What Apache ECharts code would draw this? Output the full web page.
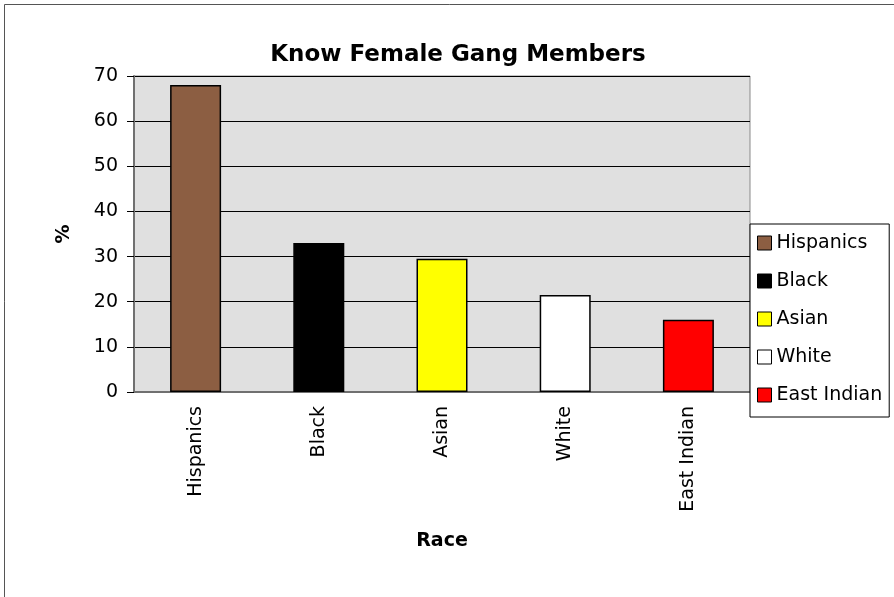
<!DOCTYPE html>
<html>
<head>
<meta charset="utf-8">
<script src="https://cdn.jsdelivr.net/npm/echarts@6/dist/echarts.min.js"></script>
<style>
  html, body { margin: 0; padding: 0; background: #fff; }
  #chart { width: 894px; height: 597px; }
</style>
</head>
<body>
<div id="chart"></div>
<script>
// data
var categories = ["Hispanics", "Black", "Asian", "White", "East Indian"];
var values = [68, 33, 29.5, 21.5, 16];
var colors = ["#8C5E42", "#000000", "#FFFF00", "#FFFFFF", "#FF0000"];
var yTicks = [0, 10, 20, 30, 40, 50, 60, 70];

var font = "DejaVu Sans";
var myChart = echarts.init(document.getElementById("chart"));

// one series per race so the legend gets one entry each
var seriesArr = categories.map(function (name, i) {
  return {
    name: name,
    type: "bar",
    barWidth: 51,
    barGap: "-100%",
    data: categories.map(function (c, j) {
      return j === i ? values[i] : "-";
    }),
    itemStyle: {
      color: colors[i],
      borderColor: "#000",
      borderWidth: 1.5,
    },
  };
});

myChart.setOption({
  animation: false,
  backgroundColor: "#fff",
  graphic: [
    {
      type: "rect",
      shape: { x: 4.5, y: 4.5, width: 1000, height: 1000 },
      style: { fill: "none", stroke: "#555", lineWidth: 1 },
      silent: true,
    },
  ],
  title: {
    text: "Know Female Gang Members",
    left: 453,
    textAlign: "center",
    top: 39,
    textStyle: {
      fontFamily: font,
      fontWeight: "bold",
      fontSize: 23,
      color: "#000",
    },
  },
  legend: {
    orient: "vertical",
    left: 750,
    top: 224,
    padding: [9, 7, 12, 7],
    itemGap: 18,
    itemWidth: 14,
    itemHeight: 14,
    icon: "rect",
    backgroundColor: "#fff",
    borderColor: "#000",
    borderWidth: 1,
    borderRadius: 0,
    data: categories,
    itemStyle: { borderColor: "#000", borderWidth: 1 },
    textStyle: {
      fontFamily: font,
      fontSize: 19,
      color: "#000",
      lineHeight: 20,
    },
  },
  grid: {
    left: 134,
    right: 144,
    top: 76,
    bottom: 205,
    show: true,
    backgroundColor: "#E0E0E0",
    borderColor: "#8a8a8a",
    borderWidth: 1,
  },
  xAxis: {
    type: "category",
    data: categories,
    name: "Race",
    nameLocation: "middle",
    nameGap: 140,
    nameTextStyle: {
      fontFamily: font,
      fontWeight: "bold",
      fontSize: 19,
      color: "#000",
    },
    axisLine: { lineStyle: { color: "#707070", width: 2 } },
    axisTick: { length: 7, lineStyle: { color: "#707070", width: 1 } },
    axisLabel: {
      rotate: 90,
      margin: 14,
      fontFamily: font,
      fontSize: 19,
      color: "#000",
    },
  },
  yAxis: {
    type: "value",
    min: yTicks[0],
    max: yTicks[yTicks.length - 1],
    interval: 10,
    name: "%",
    nameLocation: "middle",
    nameGap: 60,
    nameTextStyle: {
      fontFamily: font,
      fontWeight: "bold",
      fontSize: 19,
      color: "#000",
    },
    axisLine: { show: true, lineStyle: { color: "#707070", width: 2 } },
    axisTick: { show: true, length: 7, lineStyle: { color: "#000", width: 1 } },
    axisLabel: {
      margin: 16,
      fontFamily: font,
      fontSize: 19,
      color: "#000",
    },
    splitLine: {
      show: true,
      lineStyle: { color: "#000", width: 1 },
    },
  },
  series: seriesArr,
});
</script>
</body>
</html>
